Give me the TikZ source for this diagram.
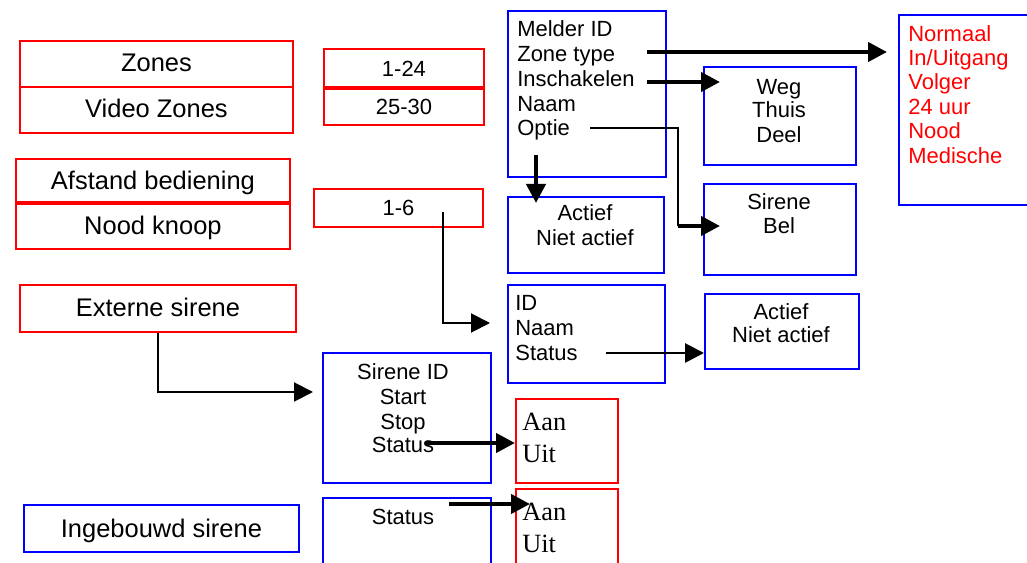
\documentclass[tikz,border=0pt]{standalone}
\usepackage{fontspec}
\setmainfont{Liberation Sans}
\newfontfamily\aanfont{Liberation Serif}
\usetikzlibrary{arrows.meta}

\begin{document}
\begin{tikzpicture}[x=0.02cm, y=-0.02cm,
  font=\fontsize{12.5}{14}\selectfont,
  rbox/.style={draw=red, line width=1.1pt, inner sep=0pt, anchor=north west,
    text height=9pt, text depth=0pt},
  bbox/.style={draw=blue, line width=1.1pt, inner sep=0pt, anchor=north west,
    text height=10pt, text depth=0pt},
  big/.style={font=\fontsize{14.5}{17}\selectfont},
  lbl/.style={inner sep=0pt, anchor=mid, yshift=-1.7pt},
  lbll/.style={inner sep=0pt, anchor=mid west, yshift=-1.7pt},
  aan/.style={inner sep=0pt, anchor=mid west, yshift=-1.7pt,
    font=\aanfont\fontsize{15}{18}\selectfont},
  tip/.style={-{Triangle[length=0.38cm, width=0.38cm]}},
  thk/.style={tip, line width=2.4pt},
  med/.style={tip, line width=1.6pt},
  thn/.style={tip, line width=1.1pt}]
  \path[use as bounding box, clip] (0,0) rectangle (1027,563);

  \node[rbox, big, minimum width=5.46cm, minimum height=0.92cm] (zones) at (19,40) {Zones};
  \node[rbox, big, minimum width=5.46cm, minimum height=0.92cm] (vzones) at (19,86) {Video Zones};
  \node[rbox, minimum width=3.2cm, minimum height=0.8cm] (r124) at (323,48) {1-24};
  \node[rbox, minimum width=3.2cm, minimum height=0.72cm] (r2530) at (323,88) {25-30};
  \draw[red, line width=2pt] (r2530.north west) -- (r2530.north east);
  \node[rbox, big, minimum width=5.48cm, minimum height=0.9cm] (afst) at (15,158) {Afstand bediening};
  \node[rbox, big, minimum width=5.48cm, minimum height=0.9cm] (nood) at (15,203) {Nood knoop};
  \draw[red, line width=2pt] (nood.north west) -- (nood.north east);
  \node[rbox, minimum width=3.38cm, minimum height=0.76cm] (r16) at (313,188) {1-6};
  \node[rbox, big, minimum width=5.52cm, minimum height=0.94cm] (ext) at (19,284) {Externe sirene};
  \node[bbox, big, minimum width=5.5cm, minimum height=0.94cm] (ing) at (23,504) {Ingebouwd sirene};

  \node[bbox, minimum width=3.16cm, minimum height=3.32cm] (melder) at (507,10) {};
  \node[bbox, minimum width=3.12cm, minimum height=1.52cm] (act1) at (507,196) {};
  \node[bbox, minimum width=3.04cm, minimum height=1.96cm] (weg) at (703,66) {};
  \node[bbox, minimum width=3.04cm, minimum height=1.82cm] (sir) at (703,183) {};
  \node[bbox, minimum width=2.8cm, minimum height=3.8cm] (norm) at (898,14) {};
  \node[bbox, minimum width=3.14cm, minimum height=1.96cm] (idb) at (507,284) {};
  \node[bbox, minimum width=3.08cm, minimum height=1.5cm] (act2) at (704,293) {};
  \node[bbox, minimum width=3.36cm, minimum height=2.6cm] (sirid) at (322,352) {};
  \node[rbox, minimum width=2.04cm, minimum height=1.68cm] (aan1) at (515,398) {};
  \node[bbox, minimum width=3.36cm, minimum height=1.6cm] (stat) at (322,497) {};
  \node[rbox, minimum width=2.04cm, minimum height=1.8cm] (aan2) at (515,488) {};

  \foreach \t [count=\i] in {Melder ID, Zone type, Inschakelen, Naam, Optie}
    \node[lbll] (m\i) at (517,{4.5+24.75*\i}) {\t};
  \foreach \t [count=\i] in {Normaal, In/Uitgang, Volger, 24 uur, Nood, Medische}
    \node[lbll, text=red] (n\i) at (908,{9+24.4*\i}) {\t};
  \foreach \t [count=\i] in {ID, Naam, Status}
    \node[lbll] (d\i) at (515,{278+25*\i}) {\t};
  \foreach \t/\y [count=\i] in {Weg/87, Thuis/110, Deel/135}
    \node[lbl] (w\i) at (779,\y) {\t};
  \foreach \t/\y [count=\i] in {Sirene/202, Bel/226}
    \node[lbl] (s\i) at (779,\y) {\t};
  \foreach \t/\y [count=\i] in {Actief/213, Niet actief/238}
    \node[lbl] (a\i) at (585,\y) {\t};
  \foreach \t/\y [count=\i] in {Actief/312, Niet actief/335}
    \node[lbl] (b\i) at (781,\y) {\t};
  \foreach \t/\y [count=\i] in {Sirene ID/372, Start/397, Stop/422, Status/445}
    \node[lbl] (e\i) at (403,\y) {\t};
  \node[lbl] (st) at (403,517) {Status};
  \foreach \t/\y [count=\i] in {Aan/423, Uit/455}
    \node[aan] (u\i) at (522,\y) {\t};
  \foreach \t/\y [count=\i] in {Aan/513, Uit/545}
    \node[aan] (v\i) at (522,\y) {\t};

  \coordinate (zt) at (647,52);
  \coordinate (ik) at (647,82);
  \coordinate (op) at (590,128);
  \coordinate (opk) at (678,226);
  \coordinate (md) at (536,155);
  \coordinate (r16o) at (443,212);
  \coordinate (ds) at (606,353);
  \coordinate (ss) at (425,443);
  \coordinate (bs) at (449,504);

  \draw[thk, shorten >=0.22cm] (zt) -- (zt -| norm.west);
  \draw[thk, shorten >=-0.34cm] (ik) -- (ik -| weg.west);
  \draw[line width=0.6pt] (op) -| (opk);
  \draw[thk, shorten >=-0.34cm] (opk) -- (opk -| sir.west);
  \draw[thk, shorten >=-0.14cm] (md) -- (md |- act1.north);
  \draw[thn, shorten >=0.34cm] (r16o) |- (idb.west |- 0,323);
  \draw[thn, shorten >=0.18cm] (ext.south) |- (sirid.west |- 0,392);
  \draw[med] (ds) -- (ds -| act2.west);
  \draw[thk] (ss) -- (ss -| aan1.west);
  \draw[thk, shorten >=-0.3cm] (bs) -- (bs -| aan2.west);
\end{tikzpicture}
\end{document}
